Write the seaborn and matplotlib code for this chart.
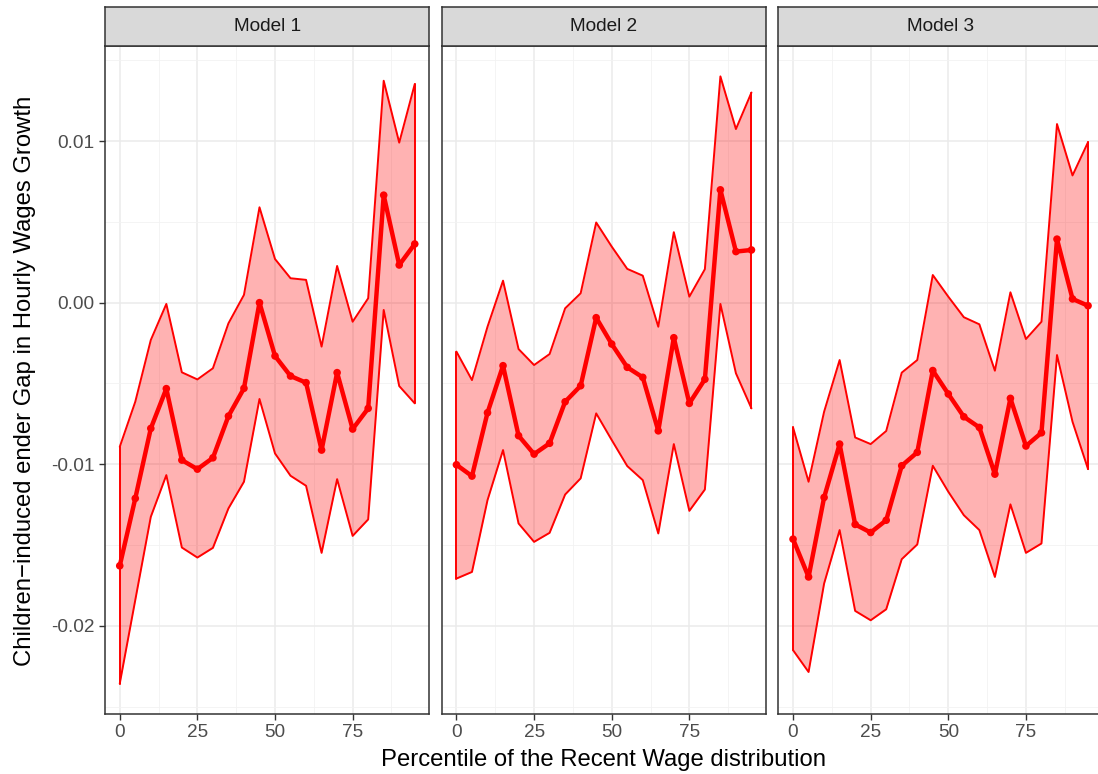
import numpy as np
import pandas as pd
import matplotlib
matplotlib.use("Agg")
import matplotlib.pyplot as plt
from matplotlib.ticker import FixedLocator, FixedFormatter
import seaborn as sns

# Percentiles of the recent wage distribution
percentiles = list(range(0, 100, 5))
models = ["Model 1", "Model 2", "Model 3"]

# Point estimates and confidence bounds per model
est_m1 = [-0.01628, -0.01211, -0.00778, -0.00532, -0.00974, -0.01030, -0.00960, -0.00702, -0.00530, 0.00000,
          -0.00330, -0.00454, -0.00495, -0.00912, -0.00433, -0.00782, -0.00654, 0.00665, 0.00233, 0.00363]
upr_m1 = [-0.00892, -0.00613, -0.00231, -0.00008, -0.00431, -0.00475, -0.00406, -0.00128, 0.00048, 0.00590,
          0.00270, 0.00151, 0.00141, -0.00272, 0.00227, -0.00118, 0.00027, 0.01373, 0.00990, 0.01352]
lwr_m1 = [-0.02357, -0.01840, -0.01325, -0.01067, -0.01515, -0.01577, -0.01517, -0.01273, -0.01108, -0.00596,
          -0.00933, -0.01071, -0.01133, -0.01548, -0.01092, -0.01443, -0.01341, -0.00045, -0.00516, -0.00623]

est_m2 = [-0.01003, -0.01073, -0.00681, -0.00390, -0.00823, -0.00937, -0.00870, -0.00613, -0.00514, -0.00093,
          -0.00256, -0.00400, -0.00462, -0.00793, -0.00217, -0.00623, -0.00474, 0.00698, 0.00316, 0.00326]
upr_m2 = [-0.00303, -0.00479, -0.00149, 0.00136, -0.00287, -0.00386, -0.00318, -0.00035, 0.00058, 0.00496,
          0.00347, 0.00209, 0.00167, -0.00149, 0.00436, 0.00037, 0.00207, 0.01400, 0.01074, 0.01300]
lwr_m2 = [-0.01707, -0.01666, -0.01222, -0.00912, -0.01366, -0.01480, -0.01424, -0.01187, -0.01087, -0.00685,
          -0.00850, -0.01011, -0.01098, -0.01428, -0.00875, -0.01288, -0.01156, -0.00008, -0.00437, -0.00654]

est_m3 = [-0.01463, -0.01697, -0.01205, -0.00875, -0.01372, -0.01422, -0.01346, -0.01009, -0.00926, -0.00420,
          -0.00565, -0.00706, -0.00772, -0.01061, -0.00592, -0.00887, -0.00805, 0.00393, 0.00023, -0.00019]
upr_m3 = [-0.00772, -0.01108, -0.00675, -0.00355, -0.00834, -0.00875, -0.00794, -0.00433, -0.00355, 0.00171,
          0.00037, -0.00090, -0.00134, -0.00421, 0.00064, -0.00225, -0.00118, 0.01105, 0.00787, 0.00993]
lwr_m3 = [-0.02150, -0.02285, -0.01738, -0.01407, -0.01907, -0.01965, -0.01897, -0.01587, -0.01496, -0.01009,
          -0.01170, -0.01315, -0.01407, -0.01697, -0.01248, -0.01548, -0.01490, -0.00324, -0.00737, -0.01030]

x_ticks = [0, 25, 50, 75]
x_tick_labels = ["0", "25", "50", "75"]
y_ticks = [-0.02, -0.01, 0.00, 0.01]
y_tick_labels = ["-0.02", "-0.01", "0.00", "0.01"]

frames = []
for name, est, lwr, upr in zip(models, [est_m1, est_m2, est_m3],
                               [lwr_m1, lwr_m2, lwr_m3], [upr_m1, upr_m2, upr_m3]):
    frames.append(pd.DataFrame({"model": name, "pct": percentiles,
                                "est": est, "lwr": lwr, "upr": upr}))
df = pd.concat(frames, ignore_index=True)

sns.set_theme(style="white")
plt.rcParams["font.family"] = ["Liberation Sans", "DejaVu Sans"]

W, H = 1098, 774
fig = plt.figure(figsize=(W / 100, H / 100), dpi=100)

# panel geometry in pixels
panel_lefts = [105.0, 441.7, 778.3]
panel_w = 324.5
panel_top, panel_bottom = 46.0, 714.0
strip_top = 7.0

tick_size = 13.7
title_size = 17.2

# shared scales with ggplot-like 5% expansion
xmin, xmax = min(percentiles), max(percentiles)
xr = xmax - xmin
xlim = (xmin - 0.05 * xr, xmax + 0.05 * xr)
ymin, ymax = df["lwr"].min(), df["upr"].max()
yr = ymax - ymin
ylim = (ymin - 0.05 * yr, ymax + 0.05 * yr)

border = "#333333"
red = "#FF0000"

for i, name in enumerate(models):
    left = panel_lefts[i]
    ax = fig.add_axes([left / W, 1 - panel_bottom / H, panel_w / W,
                       (panel_bottom - panel_top) / H])
    sub = df[df["model"] == name]

    ax.set_xlim(*xlim)
    ax.set_ylim(*ylim)

    # grid
    ax.xaxis.set_major_locator(FixedLocator(x_ticks))
    ax.xaxis.set_minor_locator(FixedLocator([12.5, 37.5, 62.5, 87.5]))
    ax.yaxis.set_major_locator(FixedLocator(y_ticks))
    ax.yaxis.set_minor_locator(FixedLocator([-0.025, -0.015, -0.005, 0.005, 0.015]))
    ax.grid(which="major", color="#EBEBEB", linewidth=1.1, zorder=0)
    ax.grid(which="minor", color="#F2F2F2", linewidth=0.6, zorder=0)
    ax.set_axisbelow(True)

    # confidence ribbon
    ax.fill_between(sub["pct"], sub["lwr"], sub["upr"], color=red, alpha=0.3,
                    linewidth=0, zorder=2)
    sns.lineplot(data=sub, x="pct", y="lwr", ax=ax, color=red, linewidth=1.4,
                 zorder=3, legend=False)
    sns.lineplot(data=sub, x="pct", y="upr", ax=ax, color=red, linewidth=1.4,
                 zorder=3, legend=False)
    # vertical closing edges of the ribbon outline
    for edge in (0, -1):
        ax.plot([sub["pct"].iloc[edge]] * 2, [sub["lwr"].iloc[edge], sub["upr"].iloc[edge]],
                color=red, linewidth=1.4, zorder=3)

    # point estimates
    sns.lineplot(data=sub, x="pct", y="est", ax=ax, color=red, linewidth=3.2,
                 zorder=4, legend=False)
    sns.scatterplot(data=sub, x="pct", y="est", ax=ax, color=red, s=30,
                    edgecolor="none", zorder=5, legend=False)

    ax.set_xlabel("")
    ax.set_ylabel("")
    for sp in ax.spines.values():
        sp.set_color(border)
        sp.set_linewidth(1.1)
        sp.set_visible(True)

    ax.xaxis.set_major_formatter(FixedFormatter(x_tick_labels))
    ax.tick_params(axis="both", which="major", direction="out", length=4.5,
                   width=1.0, color=border, labelcolor="#4D4D4D", labelsize=tick_size,
                   pad=3.0)
    ax.tick_params(axis="both", which="minor", length=0)
    ax.tick_params(axis="x", bottom=True)
    if i == 0:
        ax.yaxis.set_major_formatter(FixedFormatter(y_tick_labels))
        ax.tick_params(axis="y", left=True)
    else:
        ax.tick_params(axis="y", left=False, labelleft=False)

    # facet strip
    sax = fig.add_axes([left / W, 1 - panel_top / H, panel_w / W,
                        (panel_top - strip_top) / H])
    sax.set_facecolor("#D9D9D9")
    sax.set_xticks([])
    sax.set_yticks([])
    for sp in sax.spines.values():
        sp.set_color(border)
        sp.set_linewidth(1.1)
    sax.text(0.5, 0.5, name, ha="center", va="center", fontsize=tick_size,
             color="#1A1A1A", transform=sax.transAxes)

fig.text(603.5 / W, 1 - 760.0 / H, "Percentile of the Recent Wage distribution",
         ha="center", va="center", fontsize=title_size, color="black")
fig.text(25.0 / W, 1 - 381.0 / H, "Children\u2212induced ender Gap in Hourly Wages Growth",
         ha="center", va="center", rotation=90, fontsize=title_size, color="black")

fig.savefig("out.png", dpi=100, facecolor="white")
